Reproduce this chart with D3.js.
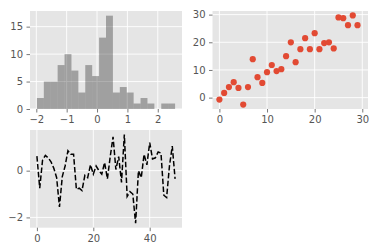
<!DOCTYPE html>
<html>
<head>
<meta charset="utf-8">
<script src="https://cdn.jsdelivr.net/npm/d3@7"></script>
<style>
  body { margin: 0; background: #fff; }
  svg { display: block; font-family: "DejaVu Sans", sans-serif; }
</style>
</head>
<body>
<svg id="chart"></svg>
<script>
// histogram: 20 equal bins between histRange[0] and histRange[1]
const histRange = [-1.98, 2.57];
const histCounts = [2, 5, 5, 8, 10, 7, 3, 8, 6, 13, 17, 3, 4, 3, 1, 2, 1, 0, 1, 1];

// scatter
const scatterX = [0, 1, 2, 3, 4, 5, 6, 7, 8, 9, 10, 11, 12, 13, 14, 15, 16, 17, 18, 19,
                  20, 21, 22, 23, 24, 25, 26, 27, 28, 29];
const scatterY = [-0.7, 1.7, 3.8, 5.6, 3.5, -2.5, 3.8, 13.9, 7.4, 5.3, 9.2, 11.8, 9.6, 10.3, 15.0,
                  20.0, 12.8, 17.5, 21.5, 17.5, 23.3, 17.5, 19.7, 20.0, 17.8, 29.0, 28.7, 26.2, 29.7, 26.2];
const scatterXLim = [-1.45, 31.2];

// dashed line
const lineY = [0.62, -0.75, 0.45, 0.65, 0.55, 0.38, 0.1, -0.3, -1.55, -0.25,
               0.2, 0.85, 0.7, 0.7, -0.8, -0.75, -0.85, -0.2, -0.3, 0.25,
               -0.15, 0.2, 0.0, -0.15, 0.35, -0.35, 0.6, 1.45, 0.05, 0.6,
               -0.5, 1.55, -1.1, -0.9, -1.0, -2.25, 0.0, -0.3, 0.7, 0.25,
               1.2, 0.5, 0.55, 0.8, 0.75, -1.05, -1.15, 0.2, 1.05, -0.35];

// tick labels
const histXTicks = [-2, -1, 0, 1, 2];
const histYTicks = [0, 5, 10, 15];
const scatXTicks = [0, 10, 20, 30];
const scatYTicks = [0, 10, 20, 30];
const lineXTicks = [0, 20, 40];
const lineYTicks = [-2, 0];

const width = 374;
const height = 252;

const svg = d3.select("#chart")
              .attr("width", width)
              .attr("height", height);

const bg = "#E5E5E5";
const tickColor = "#555555";

// pad a [min, max] extent by 5% each side, like matplotlib autoscale
function pad(ext) {
  const m = (ext[1] - ext[0]) * 0.05;
  return [ext[0] - m, ext[1] + m];
}

function drawPanel(box, xScale, yScale, xTicks, yTicks) {
  const g = svg.append("g");
  g.append("rect")
   .attr("x", box.left)
   .attr("y", box.top)
   .attr("width", box.right - box.left)
   .attr("height", box.bottom - box.top)
   .attr("fill", bg);

  // grid
  g.selectAll(".vgrid")
   .data(xTicks)
   .enter()
   .append("line")
   .attr("x1", d => xScale(d))
   .attr("x2", d => xScale(d))
   .attr("y1", box.top)
   .attr("y2", box.bottom)
   .attr("stroke", "#fff")
   .attr("stroke-width", 0.9);
  g.selectAll(".hgrid")
   .data(yTicks)
   .enter()
   .append("line")
   .attr("y1", d => yScale(d))
   .attr("y2", d => yScale(d))
   .attr("x1", box.left)
   .attr("x2", box.right)
   .attr("stroke", "#fff")
   .attr("stroke-width", 0.9);

  const xAxis = g.append("g")
                 .attr("transform", "translate(0," + box.bottom + ")")
                 .call(d3.axisBottom(xScale).tickValues(xTicks).tickSize(3.5).tickPadding(3.5).tickFormat(d3.format("d")));
  const yAxis = g.append("g")
                 .attr("transform", "translate(" + box.left + ",0)")
                 .call(d3.axisLeft(yScale).tickValues(yTicks).tickSize(3.5).tickPadding(3.5).tickFormat(d3.format("d")));
  [xAxis, yAxis].forEach(a => {
    a.select(".domain").remove();
    a.selectAll("line").attr("stroke", tickColor).attr("stroke-width", 0.8);
    a.selectAll("text")
     .attr("fill", tickColor)
     .style("font-family", "'DejaVu Sans', sans-serif")
     .style("font-size", "10px");
  });
  return g;
}

/* histogram */
const histBox = {left: 30, right: 182, top: 11, bottom: 109};
const binW = (histRange[1] - histRange[0]) / histCounts.length;
const hx = d3.scaleLinear()
             .domain(pad(histRange))
             .range([histBox.left, histBox.right]);
const hy = d3.scaleLinear()
             .domain([0, d3.max(histCounts) * 1.05])
             .range([histBox.bottom, histBox.top]);
const hg = drawPanel(histBox, hx, hy, histXTicks, histYTicks);
hg.append("g")
  .selectAll("rect")
  .data(histCounts)
  .enter()
  .append("rect")
  .attr("x", (d, i) => hx(histRange[0] + i * binW))
  .attr("width", (d, i) => hx(histRange[0] + (i + 1) * binW) - hx(histRange[0] + i * binW))
  .attr("y", d => hy(d))
  .attr("height", d => hy(0) - hy(d))
  .attr("fill", "#000")
  .attr("fill-opacity", 0.3);

/* scatter */
const scatBox = {left: 212.5, right: 368, top: 11, bottom: 109};
const sx = d3.scaleLinear()
             .domain(scatterXLim)
             .range([scatBox.left, scatBox.right]);
const sy = d3.scaleLinear()
             .domain(pad(d3.extent(scatterY)))
             .range([scatBox.bottom, scatBox.top]);
const sg = drawPanel(scatBox, sx, sy, scatXTicks, scatYTicks);
sg.append("g")
  .selectAll("circle")
  .data(scatterX)
  .enter()
  .append("circle")
  .attr("cx", d => sx(d))
  .attr("cy", (d, i) => sy(scatterY[i]))
  .attr("r", 3.1)
  .attr("fill", "#E24A33");

/* dashed line */
const lineBox = {left: 30, right: 182, top: 130, bottom: 227.7};
const lx = d3.scaleLinear()
             .domain(pad([0, lineY.length - 1]))
             .range([lineBox.left, lineBox.right]);
const ly = d3.scaleLinear()
             .domain(pad(d3.extent(lineY)))
             .range([lineBox.bottom, lineBox.top]);
const lg = drawPanel(lineBox, lx, ly, lineXTicks, lineYTicks);
lg.append("path")
  .datum(lineY)
  .attr("d", d3.line().x((d, i) => lx(i)).y(d => ly(d)))
  .attr("fill", "none")
  .attr("stroke", "#000")
  .attr("stroke-width", 1.5)
  .attr("stroke-dasharray", "5.5,2.4");
</script>
</body>
</html>
